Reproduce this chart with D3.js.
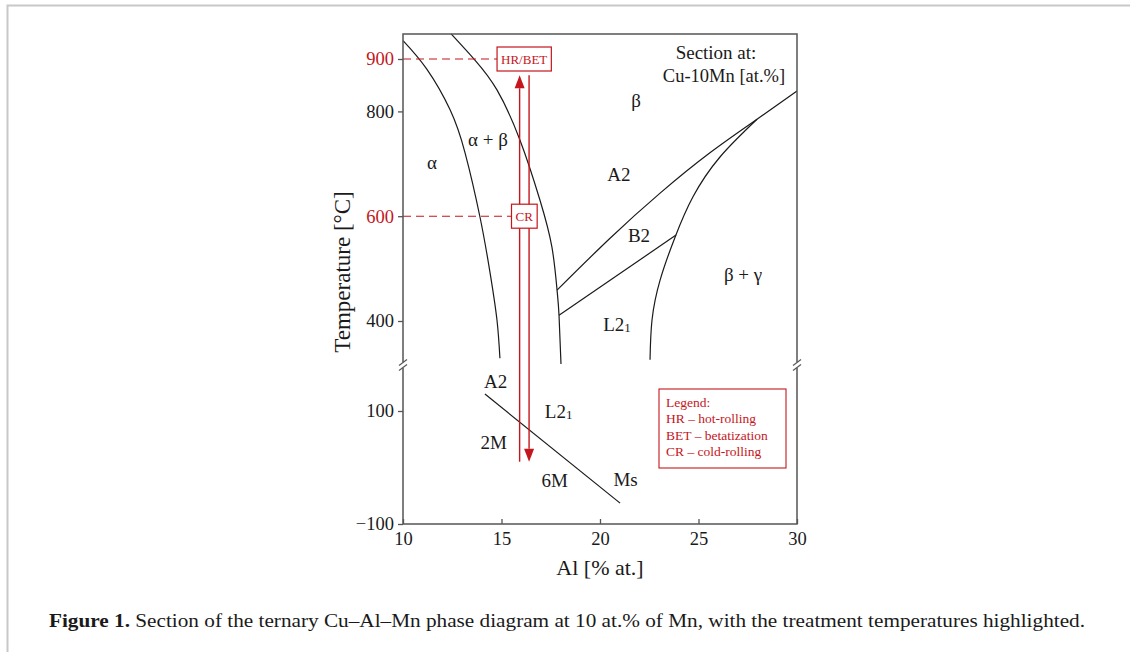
<!DOCTYPE html>
<html>
<head>
<meta charset="utf-8">
<script src="https://cdn.jsdelivr.net/npm/d3@7"></script>
<style>
  body { margin: 0; background: #fff; }
  svg text { font-family: "Liberation Serif", "Times New Roman", serif; }
</style>
</head>
<body>
<svg id="chart" width="1130" height="652"></svg>
<script>
// phase boundaries, [Al at.%, T °C]
const alphaBoundary = [[10, 935], [11.2, 881], [12.39, 803], [13.15, 721], [13.91, 598], [14.42, 492], [14.77, 402], [14.92, 329]];
const betaBoundary = [[12.44, 948], [13.65, 898], [14.77, 841], [15.94, 745], [16.95, 631], [17.56, 541], [17.82, 459], [17.92, 411], [18.02, 318]];
const a2b2Boundary = [[17.82, 459], [20.51, 558], [23.05, 644], [25.58, 721], [27.97, 785], [30, 839]];
const b2l21Boundary = [[17.92, 411], [23.86, 564]];
const gammaBoundary = [[22.54, 326], [22.64, 402], [23.05, 478], [23.81, 560], [24.72, 637], [26.09, 713], [27.97, 785]];
const msLine = [[14.16, 130], [21.02, -63]];

// treatment path
const upArrow = { al: 15.92, from: 10, to: 869 };
const downArrow = { al: 16.4, from: 869, to: 10 };
const treatments = [
  { label: "HR/BET", t: 900, al: 16.1 },
  { label: "CR", t: 600, al: 16.1 }
];

const xTicks = [10, 15, 20, 25, 30];
const yTicksHigh = [400, 600, 800, 900];
const yTicksLow = [-100, 100];
const redTicks = [600, 900];

const upperLabels = [
  { text: "α", al: 11.47, t: 690 },
  { text: "α + β", al: 14.31, t: 734 },
  { text: "β", al: 21.83, t: 808 },
  { text: "A2", al: 20.96, t: 667 },
  { text: "B2", al: 21.98, t: 551 },
  { text: "β + γ", al: 27.26, t: 476 },
  { text: "L2", sub: "1", al: 20.86, t: 381 }
];
const lowerLabels = [
  { text: "A2", al: 14.7, t: 141 },
  { text: "L2", sub: "1", al: 17.9, t: 88 },
  { text: "2M", al: 14.6, t: 33 },
  { text: "6M", al: 17.7, t: -34 },
  { text: "Ms", al: 21.3, t: -33 }
];
const legendLines = ["Legend:", "HR – hot-rolling", "BET – betatization", "CR – cold-rolling"];

const red = "#c4161c";
const ink = "#1a1a1a";
const frame = "#555";

const svg = d3.select("#chart");

// page border
svg.append("path")
  .attr("d", "M7.5,652 V5.5 H1130")
  .attr("fill", "none")
  .attr("stroke", "#c8c8c8")
  .attr("stroke-width", 2);

const plotLeft = 403, plotRight = 797, plotTop = 34, plotBottom = 524, breakY = 365;

const x = d3.scaleLinear().domain([10, 30]).range([plotLeft, plotRight]);
const yHi = d3.scaleLinear().domain([400, 900]).range([321, 59]);
const yLo = d3.scaleLinear().domain([-100, 100]).range([plotBottom, 411]);

const line = (ys) => d3.line()
  .x((d) => x(d[0]))
  .y((d) => ys(d[1]))
  .curve(d3.curveNatural);

const g = svg.append("g");

// boundaries
[alphaBoundary, betaBoundary, a2b2Boundary, b2l21Boundary, gammaBoundary].forEach((pts) => {
  g.append("path")
    .attr("d", line(yHi)(pts))
    .attr("fill", "none")
    .attr("stroke", ink)
    .attr("stroke-width", 1.2);
});
g.append("path")
  .attr("d", line(yLo)(msLine))
  .attr("fill", "none")
  .attr("stroke", ink)
  .attr("stroke-width", 1.2);

// dashed guides to the treatment boxes
treatments.forEach((d) => {
  g.append("line")
    .attr("x1", plotLeft).attr("x2", x(d.al))
    .attr("y1", yHi(d.t)).attr("y2", yHi(d.t))
    .attr("stroke", red)
    .attr("stroke-width", 1.1)
    .attr("stroke-dasharray", "8,5");
});

// arrows
const head = 13, half = 5;
g.append("line")
  .attr("x1", x(upArrow.al)).attr("x2", x(upArrow.al))
  .attr("y1", yLo(upArrow.from)).attr("y2", yHi(upArrow.to) + head)
  .attr("stroke", red).attr("stroke-width", 1.4);
g.append("path")
  .attr("d", `M${x(upArrow.al)},${yHi(upArrow.to)} l${-half},${head} h${2 * half}z`)
  .attr("fill", red);
g.append("line")
  .attr("x1", x(downArrow.al)).attr("x2", x(downArrow.al))
  .attr("y1", yHi(downArrow.from)).attr("y2", yLo(downArrow.to) - head)
  .attr("stroke", red).attr("stroke-width", 1.4);
g.append("path")
  .attr("d", `M${x(downArrow.al)},${yLo(downArrow.to)} l${-half},${-head} h${2 * half}z`)
  .attr("fill", red);

// treatment boxes
treatments.forEach((d) => {
  const t = g.append("text")
    .attr("x", x(d.al) + 1)
    .attr("y", yHi(d.t) + 4.5)
    .attr("text-anchor", "middle")
    .attr("font-size", 13)
    .attr("fill", red)
    .text(d.label);
  const bb = t.node().getBBox();
  g.insert("rect", () => t.node())
    .attr("x", bb.x - 4).attr("y", yHi(d.t) - 12)
    .attr("width", bb.width + 8).attr("height", 24)
    .attr("fill", "#fff")
    .attr("stroke", red)
    .attr("stroke-width", 1.2);
});

// region labels
function addLabel(d, ys) {
  const t = g.append("text")
    .attr("x", x(d.al))
    .attr("y", ys(d.t))
    .attr("text-anchor", "middle")
    .attr("font-size", 19)
    .attr("fill", ink)
    .text(d.text);
  if (d.sub) {
    t.append("tspan").attr("font-size", 13).attr("dy", 1).text(d.sub);
  }
}
upperLabels.forEach((d) => addLabel(d, yHi));
lowerLabels.forEach((d) => addLabel(d, yLo));

// section note
g.append("text")
  .attr("x", 716).attr("y", 59)
  .attr("text-anchor", "middle")
  .attr("font-size", 19)
  .attr("fill", ink)
  .text("Section at:");
g.append("text")
  .attr("x", 724).attr("y", 82)
  .attr("text-anchor", "middle")
  .attr("font-size", 18.5)
  .attr("fill", ink)
  .text("Cu-10Mn [at.%]");

// legend
const lg = g.append("g").attr("transform", "translate(659,389)");
lg.append("rect")
  .attr("width", 127).attr("height", 79)
  .attr("fill", "#fff")
  .attr("stroke", red)
  .attr("stroke-width", 1.1);
lg.selectAll("text")
  .data(legendLines)
  .join("text")
  .attr("x", 7)
  .attr("y", (d, i) => 18 + i * 16.3)
  .attr("font-size", 13.5)
  .attr("fill", red)
  .text((d) => d);

// frame
svg.append("path")
  .attr("d", `M${plotLeft},${plotBottom} V${plotTop} H${plotRight} V${plotBottom} H${plotLeft}`)
  .attr("fill", "none")
  .attr("stroke", frame)
  .attr("stroke-width", 1.5);

// axes
const yAxisHi = svg.append("g")
  .attr("transform", `translate(${plotLeft},0)`)
  .call(d3.axisLeft(yHi).tickValues(yTicksHigh).tickSize(5).tickPadding(4));
const yAxisLo = svg.append("g")
  .attr("transform", `translate(${plotLeft},0)`)
  .call(d3.axisLeft(yLo).tickValues(yTicksLow).tickSize(5).tickPadding(4));
const xAxis = svg.append("g")
  .attr("transform", `translate(0,${plotBottom})`)
  .call(d3.axisBottom(x).tickValues(xTicks).tickSize(-5).tickPadding(8));

[yAxisHi, yAxisLo, xAxis].forEach((a) => {
  a.select(".domain").remove();
  a.selectAll("line").attr("stroke", frame).attr("stroke-width", 1.3);
  a.selectAll("text")
    .attr("font-size", 18.5)
    .attr("font-family", "Liberation Serif, Times New Roman, serif")
    .attr("fill", ink);
});
yAxisHi.selectAll(".tick text")
  .attr("fill", (d) => (redTicks.includes(d) ? red : ink));

// axis breaks
[plotLeft, plotRight].forEach((bx) => {
  svg.append("rect")
    .attr("x", bx - 2).attr("y", breakY - 3)
    .attr("width", 4).attr("height", 6)
    .attr("fill", "#fff");
  [-2.5, 2.5].forEach((o) => {
    svg.append("line")
      .attr("x1", bx - 4).attr("x2", bx + 4)
      .attr("y1", breakY + o + 3).attr("y2", breakY + o - 3)
      .attr("stroke", frame).attr("stroke-width", 1.2);
  });
});

// axis titles
svg.append("text")
  .attr("transform", "translate(350,272) rotate(-90)")
  .attr("text-anchor", "middle")
  .attr("font-size", 23)
  .attr("fill", ink)
  .text("Temperature [°C]");
svg.append("text")
  .attr("x", 600).attr("y", 575)
  .attr("text-anchor", "middle")
  .attr("font-size", 22)
  .attr("fill", ink)
  .text("Al [% at.]");

// caption
const cap = svg.append("text")
  .attr("x", 49).attr("y", 627)
  .attr("font-size", 18)
  .attr("fill", ink)
  .attr("textLength", 1036)
  .attr("lengthAdjust", "spacingAndGlyphs");
cap.append("tspan").attr("font-weight", "bold").text("Figure 1.");
cap.append("tspan").text(" Section of the ternary Cu–Al–Mn phase diagram at 10 at.% of Mn, with the treatment temperatures highlighted.");
</script>
</body>
</html>
